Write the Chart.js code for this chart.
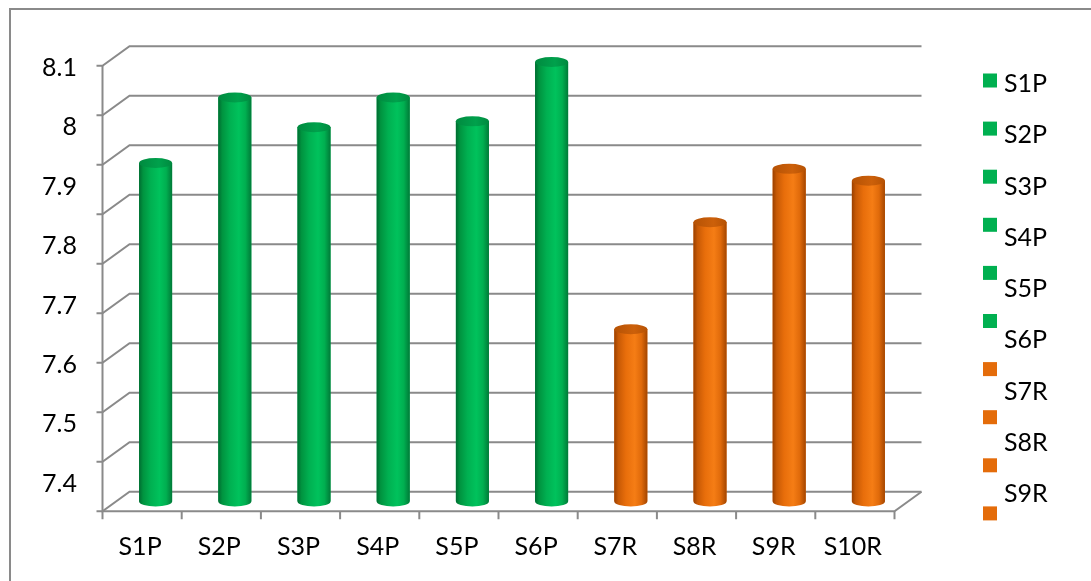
<!DOCTYPE html>
<html>
<head>
<meta charset="utf-8">
<script src="https://cdn.jsdelivr.net/npm/chart.js@4.4.1/dist/chart.umd.min.js"></script>
<style>
  html, body { margin: 0; padding: 0; background: #ffffff; }
  #wrap { width: 1091px; height: 581px; position: relative; }
</style>
</head>
<body>
<div id="wrap"><canvas id="chart" width="1091" height="581"></canvas></div>
<script>
// Sample sites (P / R groups) and their measured values
const categories = ['S1P', 'S2P', 'S3P', 'S4P', 'S5P', 'S6P', 'S7R', 'S8R', 'S9R', 'S10R'];
const values = [7.94, 8.05, 8.00, 8.05, 8.01, 8.11, 7.66, 7.84, 7.93, 7.91];
const yTickValues = [7.4, 7.5, 7.6, 7.7, 7.8, 7.9, 8.0, 8.1];
const gridValues = [7.3, 7.4, 7.5, 7.6, 7.7, 7.8, 7.9, 8.0, 8.1, 8.2];
const yMin = 7.37;
const yMax = 8.12;

// Colour schemes for the two site groups
const schemes = {
  P: {
    flat: '#00B050',
    top: ['#008A3F', '#00A14C'],
    body: [[0, '#006C31'], [0.12, '#00933F'], [0.35, '#00B051'], [0.62, '#00C25C'], [0.82, '#00AF50'], [1, '#007A38']]
  },
  R: {
    flat: '#E46C0A',
    top: ['#B65204', '#CC600A'],
    body: [[0, '#9A4000'], [0.12, '#C75905'], [0.35, '#E86E0B'], [0.62, '#F57D15'], [0.82, '#E06A0A'], [1, '#A44600']]
  }
};
const groupOf = name => name.slice(-1);

const FONT = 'Lato, "Open Sans", sans-serif';
const FONT_SIZE = 25;
const LINE = '#8a8a8a';
const DEPTH_X = 13.5;   // half depth of the 3-D box, horizontal
const DEPTH_Y = 9.75;   // half depth of the 3-D box, vertical

// Outer frame and white background
const framePlugin = {
  id: 'frame',
  beforeDraw(chart) {
    const ctx = chart.ctx;
    ctx.save();
    ctx.fillStyle = '#ffffff';
    ctx.fillRect(0, 0, chart.width, chart.height);
    ctx.strokeStyle = LINE;
    ctx.lineWidth = 2;
    ctx.beginPath();
    ctx.moveTo(10, chart.height + 2);
    ctx.lineTo(10, 9);
    ctx.lineTo(chart.width + 2, 9);
    ctx.stroke();
    ctx.restore();
  }
};

// Walls, floor and axis of the 3-D box, drawn from the grid scale
const boxPlugin = {
  id: 'box3d',
  beforeDatasetsDraw(chart) {
    const ctx = chart.ctx;
    const g = chart.scales.g;
    const { left, right, bottom } = chart.chartArea;
    const fx = left - DEPTH_X, bx = left + DEPTH_X;
    ctx.save();
    ctx.strokeStyle = LINE;
    ctx.lineWidth = 2;
    ctx.lineCap = 'butt';
    gridValues.forEach(v => {
      const py = g.getPixelForValue(v);
      ctx.beginPath();
      ctx.moveTo(fx - 6, py + DEPTH_Y);
      ctx.lineTo(fx, py + DEPTH_Y);
      ctx.lineTo(bx, py - DEPTH_Y);
      ctx.lineTo(right + DEPTH_X, py - DEPTH_Y);
      ctx.stroke();
    });
    // front vertical axis
    ctx.beginPath();
    ctx.moveTo(fx, g.getPixelForValue(gridValues[gridValues.length - 1]) + DEPTH_Y);
    ctx.lineTo(fx, bottom + DEPTH_Y);
    // front floor edge and right floor edge
    ctx.lineTo(right - DEPTH_X, bottom + DEPTH_Y);
    ctx.lineTo(right + DEPTH_X, bottom - DEPTH_Y);
    ctx.stroke();
    // category tick marks on the front edge
    const step = (right - left) / categories.length;
    for (let i = 0; i <= categories.length; i++) {
      const tx = fx + i * step;
      ctx.beginPath();
      ctx.moveTo(tx, bottom + DEPTH_Y);
      ctx.lineTo(tx, bottom + DEPTH_Y + 8);
      ctx.stroke();
    }
    ctx.restore();
  }
};

// Cylinder shading over each bar element
const cylinderPlugin = {
  id: 'cylinders',
  afterDatasetsDraw(chart) {
    const ctx = chart.ctx;
    const meta = chart.getDatasetMeta(0);
    meta.data.forEach((el, i) => {
      const { x, y, base, width } = el.getProps(['x', 'y', 'base', 'width'], true);
      const sc = schemes[groupOf(categories[i])];
      const rx = width / 2, ry = 5;
      ctx.save();
      const grad = ctx.createLinearGradient(x - rx, 0, x + rx, 0);
      sc.body.forEach(([o, c]) => grad.addColorStop(o, c));
      ctx.fillStyle = grad;
      ctx.beginPath();
      ctx.moveTo(x - rx, y);
      ctx.lineTo(x - rx, base);
      ctx.ellipse(x, base, rx, ry, 0, Math.PI, 0, true);
      ctx.lineTo(x + rx, y);
      ctx.closePath();
      ctx.fill();
      // top cap
      const capGrad = ctx.createLinearGradient(x - rx, 0, x + rx, 0);
      capGrad.addColorStop(0, sc.top[0]);
      capGrad.addColorStop(0.6, sc.top[1]);
      capGrad.addColorStop(1, sc.top[0]);
      ctx.fillStyle = capGrad;
      ctx.beginPath();
      ctx.ellipse(x, y, rx, ry, 0, 0, Math.PI * 2);
      ctx.fill();
      ctx.restore();
    });
  }
};

// Legend on the right: one square per category
const legendLayout = { boxX: 983, boxSize: 14, boxTop: 73.5, boxStep: 48.1, textX: 1004, textTop: 84, textStep: 51.25, clipBottom: 528 };
const legendPlugin = {
  id: 'sideLegend',
  afterDraw(chart) {
    const ctx = chart.ctx;
    const L = legendLayout;
    ctx.save();
    ctx.font = FONT_SIZE + 'px ' + FONT;
    ctx.textAlign = 'left';
    ctx.textBaseline = 'middle';
    categories.forEach((name, i) => {
      ctx.fillStyle = schemes[groupOf(name)].flat;
      ctx.fillRect(L.boxX, L.boxTop + i * L.boxStep, L.boxSize, L.boxSize);
      const ty = L.textTop + i * L.textStep;
      if (ty < L.clipBottom) {
        ctx.fillStyle = '#000000';
        ctx.fillText(name, L.textX, ty);
      }
    });
    ctx.restore();
  }
};

function build() {
  new Chart(document.getElementById('chart'), {
    type: 'bar',
    data: {
      labels: categories,
      datasets: [{
        label: 'Value',
        data: values,
        base: yMin,
        backgroundColor: categories.map(c => schemes[groupOf(c)].flat),
        borderWidth: 0,
        categoryPercentage: 1,
        barPercentage: 0.417
      }]
    },
    options: {
      responsive: false,
      animation: false,
      devicePixelRatio: 1,
      layout: { padding: { top: 56, right: 183, bottom: 0, left: 0 } },
      plugins: { legend: { display: false }, tooltip: { enabled: false } },
      scales: {
        x: {
          type: 'category',
          offset: true,
          grid: { display: false, drawTicks: false },
          border: { display: false },
          ticks: {
            color: '#000000',
            font: { family: FONT, size: FONT_SIZE },
            padding: 30,
            labelOffset: -DEPTH_X - 2,
            maxRotation: 0,
            autoSkip: false
          },
          afterFit(s) { s.height = 79.5; }
        },
        y: {
          type: 'linear',
          position: 'left',
          min: yMin,
          max: yMax,
          grid: { display: false, drawTicks: false },
          border: { display: false },
          ticks: {
            color: '#000000',
            font: { family: FONT, size: FONT_SIZE },
            padding: 39,
            callback: v => String(Math.round(v * 10) / 10)
          },
          afterBuildTicks(s) { s.ticks = yTickValues.map(v => ({ value: v })); },
          afterFit(s) { s.width = 116; }
        },
        g: {
          type: 'linear',
          axis: 'y',
          position: 'left',
          display: false,
          min: 7.3,
          max: 8.2
        }
      }
    },
    plugins: [framePlugin, boxPlugin, cylinderPlugin, legendPlugin]
  });
}

if (document.fonts && document.fonts.load) {
  document.fonts.load(FONT_SIZE + 'px Lato').then(build, build);
} else {
  build();
}
</script>
</body>
</html>
